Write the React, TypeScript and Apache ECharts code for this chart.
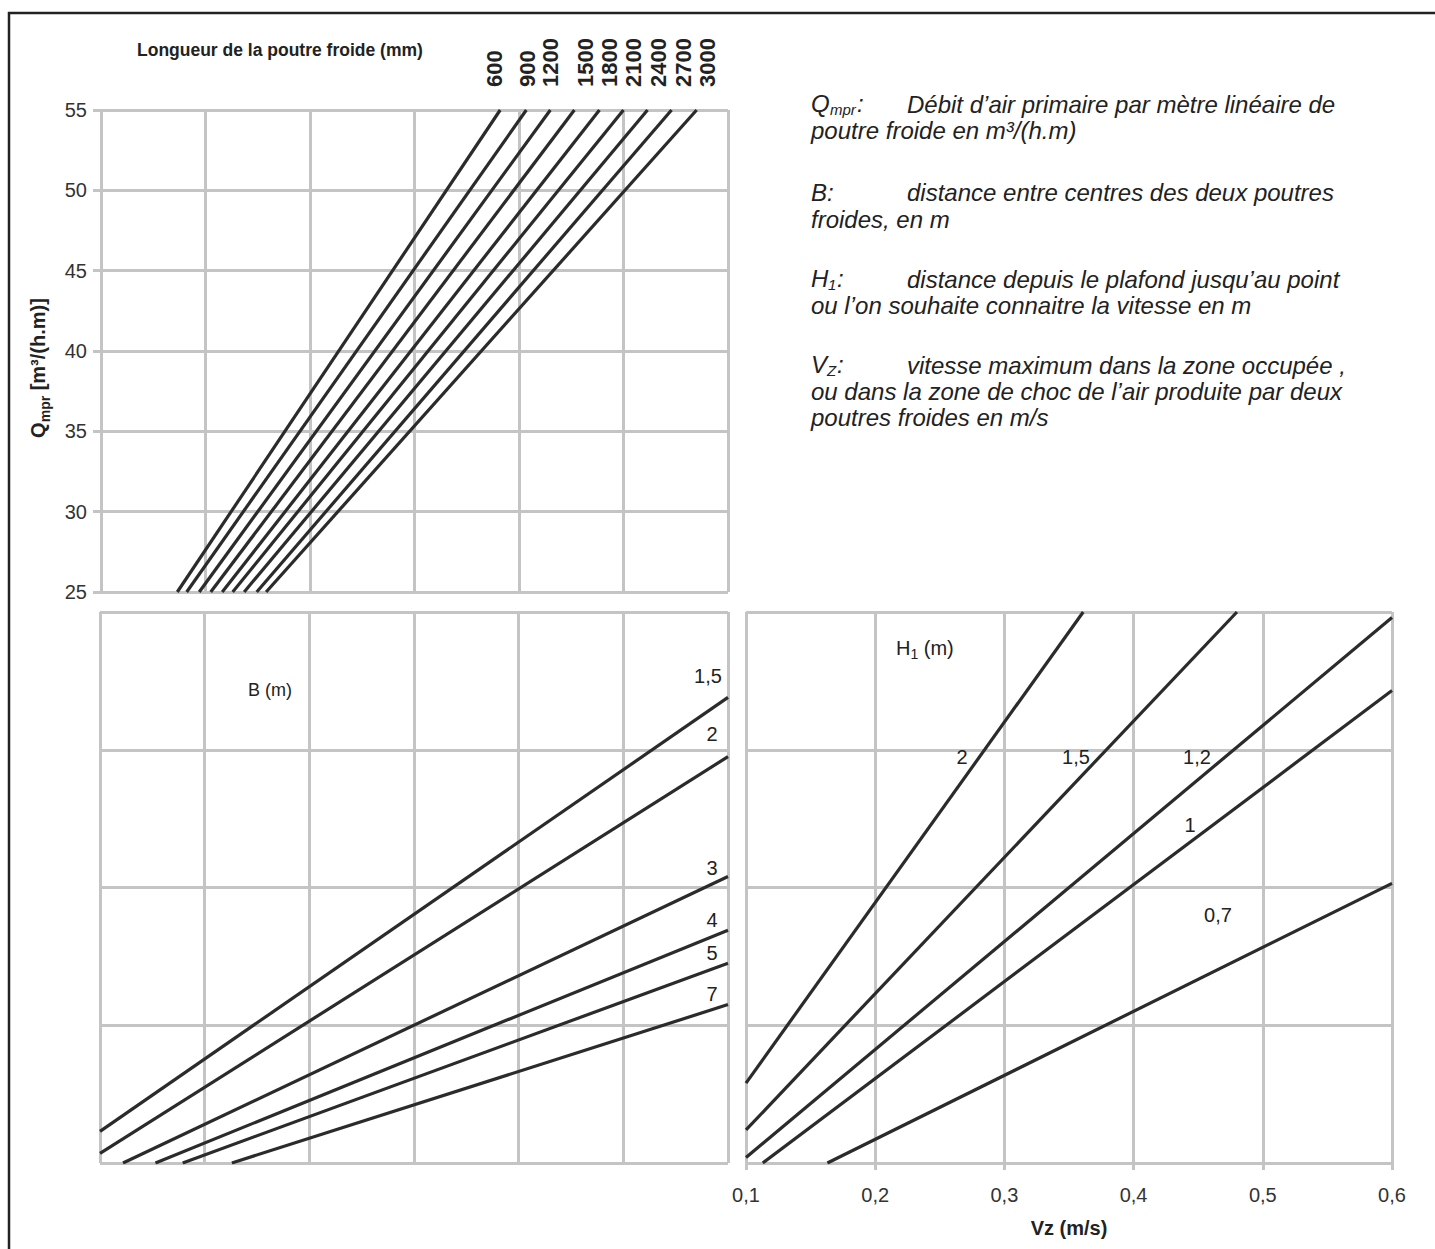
import React, { useEffect, useRef } from "react";
import * as echarts from "echarts";

// ---------- DATA ----------
// Top chart: beam length curves (x: abstract 0..6, y: Qmpr 25..55)
const beamLengths = ["600", "900", "1200", "1500", "1800", "2100", "2400", "2700", "3000"];
const beamLines: number[][][] = [
  [[0.73, 25], [3.82, 55]],
  [[0.82, 25], [4.07, 55]],
  [[0.94, 25], [4.30, 55]],
  [[1.05, 25], [4.53, 55]],
  [[1.16, 25], [4.77, 55]],
  [[1.26, 25], [5.0, 55]],
  [[1.37, 25], [5.23, 55]],
  [[1.49, 25], [5.46, 55]],
  [[1.58, 25], [5.70, 55]],
];
const qTicks = { min: 25, max: 55, step: 5 };

// Bottom-left chart: B (m) curves (x: 0..6, y: 0..4)
const bLabels = ["1,5", "2", "3", "4", "5", "7"];
const bLines: number[][][] = [
  [[0, 0.23], [6, 3.38]],
  [[0, 0.07], [6, 2.95]],
  [[0.22, 0], [6, 2.08]],
  [[0.53, 0], [6, 1.69]],
  [[0.79, 0], [6, 1.45]],
  [[1.26, 0], [6, 1.15]],
];

// Bottom-right chart: H1 (m) curves (x: Vz 0.1..0.6, y: 0..4)
const hLabels = ["2", "1,5", "1,2", "1", "0,7"];
const hLines: number[][][] = [
  [[0.1, 0.58], [0.361, 4]],
  [[0.1, 0.24], [0.48, 4]],
  [[0.1, 0.04], [0.6, 3.96]],
  [[0.113, 0], [0.6, 3.43]],
  [[0.163, 0], [0.6, 2.03]],
];
const vzTicks = { min: 0.1, max: 0.6, step: 0.1 };

// ---------- LAYOUT / STYLE ----------
const FONT = "'Liberation Sans', Arial, Helvetica, sans-serif";
const GRID_COLOR = "#c4c4c4";
const LINE_COLOR = "#2b2b2b";
const TEXT_COLOR = "#222";

const lengthLabelX = [494, 527, 550, 585, 609, 633, 658, 683, 707];
const lengthLabelBottom = 87;
const bLabelPos = [
  [708, 676],
  [712, 734],
  [712, 868],
  [712, 920],
  [712, 953],
  [712, 994],
];
const hLabelPos = [
  [962, 757],
  [1076, 757],
  [1197, 757],
  [1190, 825],
  [1218, 915],
];

const splitLine = { show: true, lineStyle: { color: GRID_COLOR, width: 3 } };
const hiddenAxisBits = {
  axisLine: { show: false },
  axisTick: { show: false },
  axisLabel: { show: false },
};

function lineSeries(lines: number[][][], axisIndex: number) {
  return lines.map((pts) => ({
    type: "line",
    xAxisIndex: axisIndex,
    yAxisIndex: axisIndex,
    data: pts,
    symbol: "none",
    silent: true,
    lineStyle: { color: LINE_COLOR, width: 3.2 },
    z: 3,
  }));
}

function buildOption() {
  return {
    animation: false,
    backgroundColor: "#ffffff",
    grid: [
      { left: 101, top: 110, width: 627, height: 482 },
      { left: 100, top: 612, width: 628, height: 551 },
      { left: 746, top: 612, width: 646, height: 551 },
    ],
    xAxis: [
      { gridIndex: 0, type: "value", min: 0, max: 6, interval: 1, ...hiddenAxisBits, splitLine },
      { gridIndex: 1, type: "value", min: 0, max: 6, interval: 1, ...hiddenAxisBits, splitLine },
      {
        gridIndex: 2,
        type: "value",
        min: vzTicks.min,
        max: vzTicks.max,
        interval: vzTicks.step,
        axisLine: { show: false },
        axisTick: { show: true, length: 7, lineStyle: { color: GRID_COLOR, width: 3 } },
        axisLabel: {
          show: true,
          margin: 22,
          fontSize: 20,
          color: "#333",
          fontFamily: FONT,
          formatter: (v: number) => v.toFixed(1).replace(".", ","),
        },
        splitLine,
        name: "Vz (m/s)",
        nameLocation: "middle",
        nameGap: 55,
        nameTextStyle: { fontSize: 20, fontWeight: "bold", color: TEXT_COLOR, fontFamily: FONT },
      },
    ],
    yAxis: [
      {
        gridIndex: 0,
        type: "value",
        min: qTicks.min,
        max: qTicks.max,
        interval: qTicks.step,
        axisLine: { show: false },
        axisTick: { show: true, length: 8, lineStyle: { color: GRID_COLOR, width: 3 } },
        axisLabel: { show: true, margin: 14, fontSize: 20, color: "#333", fontFamily: FONT },
        splitLine,
      },
      { gridIndex: 1, type: "value", min: 0, max: 4, interval: 1, ...hiddenAxisBits, splitLine },
      { gridIndex: 2, type: "value", min: 0, max: 4, interval: 1, ...hiddenAxisBits, splitLine },
    ],
    series: [...lineSeries(beamLines, 0), ...lineSeries(bLines, 1), ...lineSeries(hLines, 2)],
  };
}

function txt(x: number, y: number, text: string, extra: any = {}) {
  return {
    type: "text",
    x,
    y,
    silent: true,
    z: 10,
    style: {
      text,
      fill: TEXT_COLOR,
      fontFamily: FONT,
      fontSize: 20,
      align: "left",
      verticalAlign: "middle",
      ...extra,
    },
  };
}

// symbol with subscript, built from separate texts: main letter, lowered subscript, colon
function symbolWithSub(x: number, y: number, main: string, mainW: number, sub: string, subW: number) {
  const it = { fontSize: 24, fontStyle: "italic" };
  return [
    txt(x, y, main, it),
    txt(x + mainW, y + 6, sub, { fontSize: 15, fontStyle: "italic" }),
    txt(x + mainW + subW, y, ":", it),
  ];
}

function staticGraphics() {
  const it = { fontSize: 24, fontStyle: "italic" };
  const col1 = 811;
  const col2 = 907;
  const g: any[] = [
    {
      type: "rect",
      silent: true,
      shape: { x: 9, y: 13, width: 1440, height: 1300 },
      style: { fill: "none", stroke: "#222", lineWidth: 2.5 },
    },
    txt(137, 50, "Longueur de la poutre froide (mm)", { fontWeight: "bold", fontSize: 17.5 }),
    {
      type: "text",
      x: 38,
      y: 368,
      rotation: Math.PI / 2,
      silent: true,
      style: {
        text: "{b|Q}{s|mpr}{b| [m³/(h.m)]}",
        align: "center",
        verticalAlign: "middle",
        rich: {
          b: { fontSize: 20, fontWeight: "bold", fontFamily: FONT, fill: TEXT_COLOR, lineHeight: 28, verticalAlign: "middle" },
          s: { fontSize: 14, fontWeight: "bold", fontFamily: FONT, fill: TEXT_COLOR, lineHeight: 14, verticalAlign: "bottom" },
        },
      },
    },
    txt(248, 690, "B (m)", { fontSize: 18 }),
    {
      type: "text",
      x: 896,
      y: 648,
      silent: true,
      style: {
        text: "{n|H}{s|1}{n| (m)}",
        align: "left",
        verticalAlign: "middle",
        rich: {
          n: { fontSize: 20, fontFamily: FONT, fill: TEXT_COLOR, lineHeight: 26, verticalAlign: "middle" },
          s: { fontSize: 14, fontFamily: FONT, fill: TEXT_COLOR, lineHeight: 13, verticalAlign: "bottom" },
        },
      },
    },
    // annotations
    ...symbolWithSub(col1, 103, "Q", 19, "mpr", 27),
    txt(col2, 104, "Débit d’air primaire par mètre linéaire de", it),
    txt(col1, 130, "poutre froide en m³/(h.m)", it),
    txt(col1, 192, "B:", it),
    txt(col2, 192, "distance entre centres des deux poutres", it),
    txt(col1, 219, "froides, en m", it),
    ...symbolWithSub(col1, 278, "H", 17, "1", 9),
    txt(col2, 279, "distance depuis le plafond jusqu’au point", it),
    txt(col1, 305, "ou l’on souhaite connaitre la vitesse en m", it),
    ...symbolWithSub(col1, 364, "V", 16, "Z", 10),
    txt(col2, 365, "vitesse maximum dans la zone occupée ,", it),
    txt(col1, 391, "ou dans la zone de choc de l’air produite par deux", it),
    txt(col1, 417, "poutres froides en m/s", it),
  ];
  bLabels.forEach((l, i) => g.push(txt(bLabelPos[i][0], bLabelPos[i][1], l, { align: "center" })));
  hLabels.forEach((l, i) => g.push(txt(hLabelPos[i][0], hLabelPos[i][1], l, { align: "center" })));
  beamLengths.forEach((l, i) =>
    g.push({
      type: "text",
      x: lengthLabelX[i],
      y: lengthLabelBottom,
      rotation: Math.PI / 2,
      silent: true,
      style: {
        text: l,
        fill: TEXT_COLOR,
        fontFamily: FONT,
        fontSize: 22,
        fontWeight: "bold",
        align: "left",
        verticalAlign: "middle",
      },
    })
  );
  return g;
}

export default function App() {
  const ref = useRef<HTMLDivElement>(null);
  useEffect(() => {
    document.body.style.margin = "0";
    document.body.style.overflow = "hidden";
    const chart = echarts.init(ref.current!, undefined, { renderer: "svg" });
    chart.setOption({ ...buildOption(), graphic: staticGraphics() } as any);
    return () => chart.dispose();
  }, []);
  return <div ref={ref} style={{ width: 1435, height: 1249 }} />;
}
